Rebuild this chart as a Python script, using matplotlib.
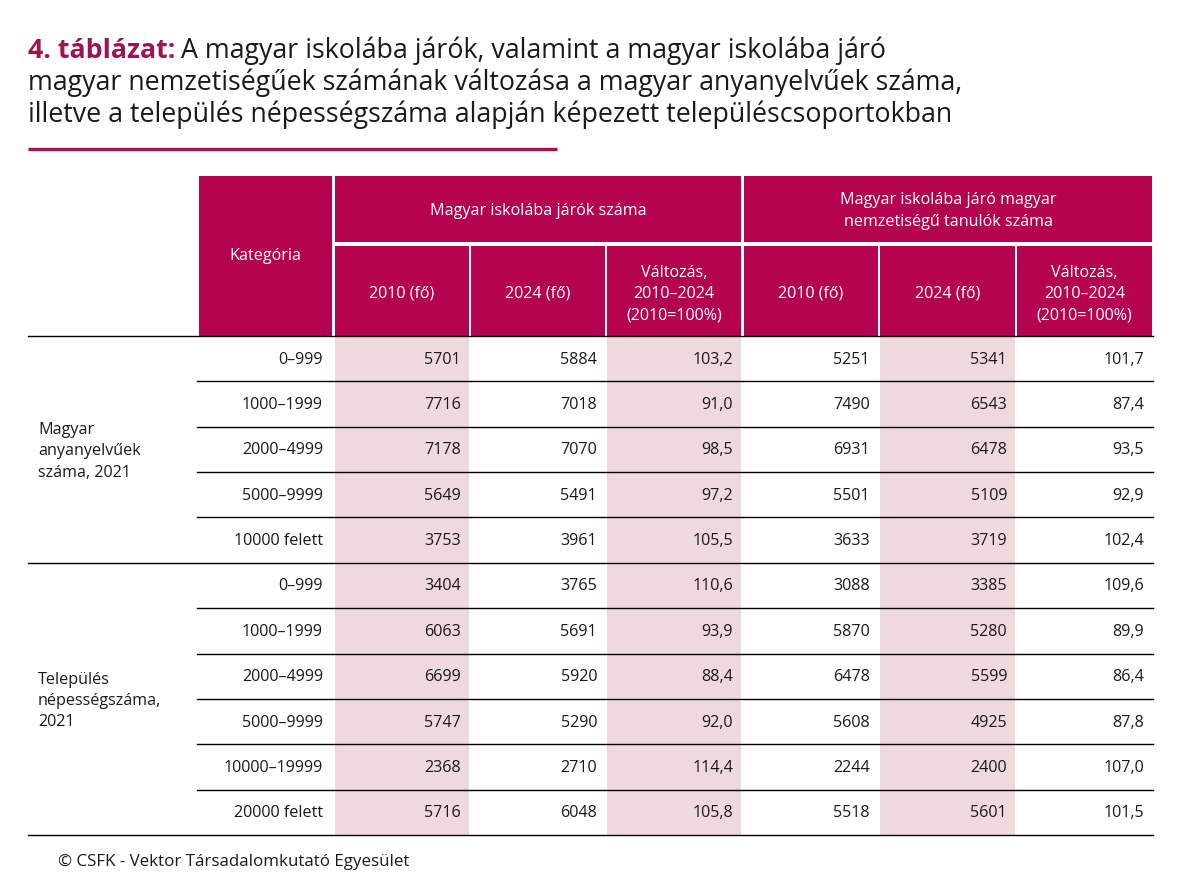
import matplotlib
matplotlib.use("Agg")
import matplotlib.pyplot as plt
from matplotlib.patches import Rectangle

# ---- data ----
title_bold = "4. táblázat:"
title_rest = "A magyar iskolába járók, valamint a magyar iskolába járó"
title_lines = [
    "magyar nemzetiségűek számának változása a magyar anyanyelvűek száma,",
    "illetve a település népességszáma alapján képezett településcsoportokban",
]
group_headers = ["Magyar iskolába járók száma",
                 "Magyar iskolába járó magyar\nnemzetiségű tanulók száma"]
sub_headers = ["2010 (fő)", "2024 (fő)", "Változás,\n2010–2024\n(2010=100%)"]
cat_header = "Kategória"
row_groups = ["Magyar\nanyanyelvűek\nszáma, 2021", "Település\nnépességszáma,\n2021"]
categories_1 = ["0–999", "1000–1999", "2000–4999", "5000–9999", "10000 felett"]
categories_2 = ["0–999", "1000–1999", "2000–4999", "5000–9999", "10000–19999", "20000 felett"]
school_2010 = [5701, 7716, 7178, 5649, 3753, 3404, 6063, 6699, 5747, 2368, 5716]
school_2024 = [5884, 7018, 7070, 5491, 3961, 3765, 5691, 5920, 5290, 2710, 6048]
school_change = [103.2, 91.0, 98.5, 97.2, 105.5, 110.6, 93.9, 88.4, 92.0, 114.4, 105.8]
nat_2010 = [5251, 7490, 6931, 5501, 3633, 3088, 5870, 6478, 5608, 2244, 5518]
nat_2024 = [5341, 6543, 6478, 5109, 3719, 3385, 5280, 5599, 4925, 2400, 5601]
nat_change = [101.7, 87.4, 93.5, 92.9, 102.4, 109.6, 89.9, 86.4, 87.8, 107.0, 101.5]
footer = "© CSFK - Vektor Társadalomkutató Egyesület"

# ---- style ----
FONT = ["Open Sans", "DejaVu Sans"]
HEAD = "#b5044f"
PINK = "#f0d9dd"
MAG = "#9b1550"
TXT = "#1a1a1a"

W, H = 1191, 877
fig = plt.figure(figsize=(W / 100, H / 100), dpi=100)
ax = fig.add_axes([0, 0, 1, 1])
ax.set_xlim(0, W)
ax.set_ylim(H, 0)
ax.axis("off")

# title
tfs = 19.3
t = ax.text(28, 51, title_bold, fontsize=tfs, fontweight="bold", color=MAG,
            family=FONT, va="center", ha="left")
fig.canvas.draw()
bb = t.get_window_extent()
x_after = bb.x1 + 6
ax.text(x_after, 51, title_rest, fontsize=tfs, color=TXT, family=FONT,
        va="center", ha="left")
for i, ln in enumerate(title_lines):
    ax.text(28, 83 + 32 * i, ln, fontsize=tfs, color=TXT, family=FONT,
            va="center", ha="left")
ax.plot([28, 557], [149, 149], color=MAG, lw=2.4, solid_capstyle="butt")

# column geometry
cat_x0, cat_x1 = 199, 332
col_edges = [(335, 469), (471, 605), (607, 741), (744, 878), (880, 1015), (1017, 1152)]
top, mid, hdr_bot = 176, 244, 336
fs = 11.6
LS = 1.45

# header
ax.add_patch(Rectangle((cat_x0, top), cat_x1 - cat_x0, hdr_bot - top, color=HEAD, lw=0))
ax.text((cat_x0 + cat_x1) / 2, 256, cat_header, color="white", fontsize=fs,
        family=FONT, ha="center", va="center")
for g in range(2):
    gx0 = col_edges[3 * g][0]
    gx1 = col_edges[3 * g + 2][1]
    ax.add_patch(Rectangle((gx0, top), gx1 - gx0, mid - top - 2, color=HEAD, lw=0))
    ax.text((gx0 + gx1) / 2, (top + mid - 2) / 2 + 2, group_headers[g], color="white",
            fontsize=fs, family=FONT, ha="center", va="center", linespacing=LS)
    for k in range(3):
        x0, x1 = col_edges[3 * g + k]
        ax.add_patch(Rectangle((x0, mid + 2), x1 - x0, hdr_bot - mid - 2, color=HEAD, lw=0))
        ax.text((x0 + x1) / 2, (mid + 2 + hdr_bot) / 2 + 3, sub_headers[k], color="white",
                fontsize=fs, family=FONT, ha="center", va="center", linespacing=LS)

# body
n1, n2 = len(categories_1), len(categories_2)
n = n1 + n2
row_h = (835 - hdr_bot) / n
body_bot = hdr_bot + n * row_h
shaded = [0, 2, 4]
for c in shaded:
    x0, x1 = col_edges[c]
    ax.add_patch(Rectangle((x0, hdr_bot), x1 - x0, body_bot - hdr_bot, color=PINK, lw=0))

cats = categories_1 + categories_2
cols = [school_2010, school_2024, school_change, nat_2010, nat_2024, nat_change]
for r in range(n):
    yc = hdr_bot + (r + 0.5) * row_h + 1
    ax.text(cat_x1 - 9, yc, cats[r], fontsize=fs, family=FONT, color=TXT,
            ha="right", va="center")
    for c, vals in enumerate(cols):
        v = vals[r]
        s = f"{v:.1f}".replace(".", ",") if isinstance(v, float) else str(v)
        ax.text(col_edges[c][1] - 8, yc, s, fontsize=fs, family=FONT, color=TXT,
                ha="right", va="center")

# lines
ax.plot([28, 1153], [hdr_bot, hdr_bot], color="black", lw=1)
for r in range(1, n):
    y = hdr_bot + r * row_h
    if r == n1:
        ax.plot([28, 1153], [y, y], color="black", lw=1)
    else:
        ax.plot([197, 1153], [y, y], color="black", lw=1)
ax.plot([28, 1153], [body_bot, body_bot], color="black", lw=1)

# row group labels
ax.text(38, hdr_bot + n1 * row_h / 2 + 2, row_groups[0], fontsize=fs, family=FONT,
        color=TXT, ha="left", va="center", linespacing=LS)
ax.text(38, hdr_bot + n1 * row_h + n2 * row_h / 2 + 2, row_groups[1], fontsize=fs,
        family=FONT, color=TXT, ha="left", va="center", linespacing=LS)

ax.text(58, 862, footer, fontsize=12.2, family=FONT, color=TXT, ha="left", va="center")

fig.savefig("out.png", dpi=100)
